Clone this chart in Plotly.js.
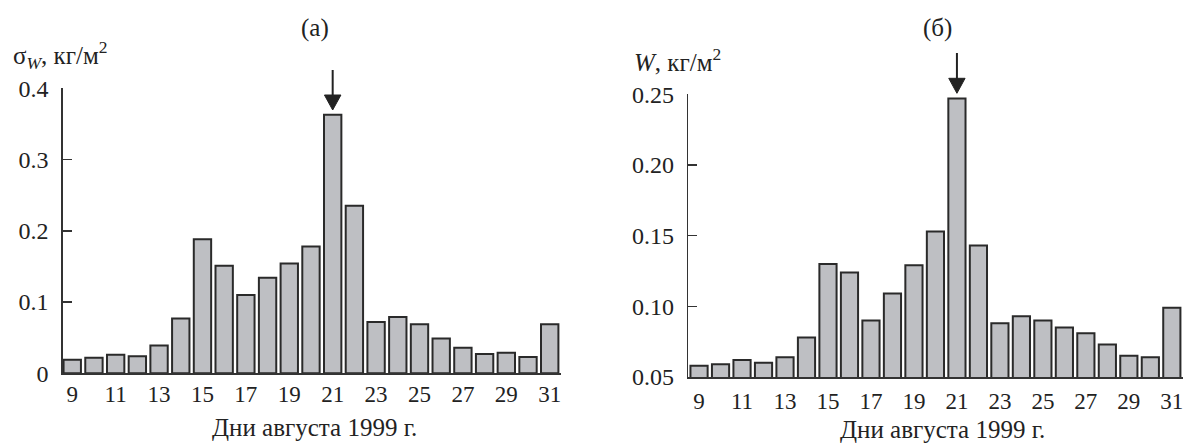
<!DOCTYPE html>
<html>
<head>
<meta charset="utf-8">
<script src="https://cdn.plot.ly/plotly-3.0.1.min.js"></script>
<style>
  html, body { margin: 0; padding: 0; background: #ffffff; }
  #chart { width: 1183px; height: 443px; }
</style>
</head>
<body>
<div id="chart"></div>
<script>
// Days of August 1999
var days = [9, 10, 11, 12, 13, 14, 15, 16, 17, 18, 19, 20, 21, 22, 23, 24, 25, 26, 27, 28, 29, 30, 31];
// (а) sigma_W, kg/m^2
var sigmaW = [0.019, 0.022, 0.026, 0.024, 0.039, 0.077, 0.188, 0.151, 0.110, 0.134, 0.154, 0.178,
              0.363, 0.235, 0.072, 0.079, 0.069, 0.049, 0.036, 0.027, 0.029, 0.023, 0.069];
// (б) W, kg/m^2
var waterW = [0.058, 0.059, 0.062, 0.060, 0.064, 0.078, 0.130, 0.124, 0.090, 0.109, 0.129, 0.153,
              0.247, 0.143, 0.088, 0.093, 0.090, 0.085, 0.081, 0.073, 0.065, 0.064, 0.099];
// tick labels
var xTickVals = [9, 11, 13, 15, 17, 19, 21, 23, 25, 27, 29, 31];
var xTickText = ['9', '11', '13', '15', '17', '19', '21', '23', '25', '27', '29', '31'];
var yLeftVals = [0, 0.1, 0.2, 0.3, 0.4];
var yLeftText = ['0', '0.1', '0.2', '0.3', '0.4'];
var yRightVals = [0.05, 0.10, 0.15, 0.20, 0.25];
var yRightText = ['0.05', '0.10', '0.15', '0.20', '0.25'];
var markedDay = 21;

var FONT = 'Liberation Serif, Times New Roman, serif';
var TXT = '#222222';
var AX = '#333333';
var ARROW = '#222222';
var barStyle = { color: '#bebfc3', line: { color: '#2a2a2a', width: 2 } };

var traces = [
  { type: 'bar', x: days, y: sigmaW, xaxis: 'x', yaxis: 'y', width: 0.8,
    marker: barStyle, hoverinfo: 'x+y', showlegend: false },
  { type: 'bar', x: days, y: waterW, xaxis: 'x2', yaxis: 'y2', width: 0.8,
    marker: barStyle, hoverinfo: 'x+y', showlegend: false }
];

function xAxis(domain, range, anchor, standoff) {
  return {
    domain: domain, range: range, anchor: anchor,
    tickmode: 'array', tickvals: xTickVals, ticktext: xTickText,
    ticks: '', showgrid: false, zeroline: false,
    showline: true, linecolor: AX, linewidth: 1.5,
    tickfont: { family: FONT, size: 23, color: TXT },
    ticklabelstandoff: standoff, ticklabeloverflow: 'allow', fixedrange: true
  };
}
function yAxis(domain, range, anchor, vals, text) {
  return {
    domain: domain, range: range, anchor: anchor,
    tickmode: 'array', tickvals: vals, ticktext: text,
    ticks: 'inside', ticklen: 9, tickwidth: 1.5, tickcolor: AX,
    showgrid: false, zeroline: false,
    showline: true, linecolor: AX, linewidth: 1.5,
    tickfont: { family: FONT, size: 24, color: TXT },
    ticklabelstandoff: 8, ticklabeloverflow: 'allow', fixedrange: true
  };
}

var W = 1183, H = 443;
function px(x) { return x / W; }
function py(y) { return (H - y) / H; }

// downward arrow above the marked day: tail top, head base, tip (page pixels)
function arrowShapes(xref, topY, tipY) {
  var baseY = tipY - 15;
  var half = 0.38;
  return [
    { type: 'line', xref: xref, yref: 'paper', x0: markedDay, x1: markedDay,
      y0: py(topY), y1: py(baseY + 1), line: { color: ARROW, width: 2 } },
    { type: 'path', xref: xref, yref: 'paper',
      path: 'M' + (markedDay - half) + ',' + py(baseY) +
            ' L' + (markedDay + half) + ',' + py(baseY) +
            ' L' + markedDay + ',' + py(tipY) + ' Z',
      fillcolor: ARROW, line: { color: ARROW, width: 1 } }
  ];
}

var layout = {
  width: W, height: H,
  margin: { l: 0, r: 0, t: 0, b: 0 },
  paper_bgcolor: '#ffffff', plot_bgcolor: '#ffffff',
  font: { family: FONT, color: TXT },
  xaxis: xAxis([px(62.7), px(561)], [8.56, 31.52], 'y', 0),
  yaxis: yAxis([py(373.3), py(88.3)], [0, 0.4], 'x', yLeftVals, yLeftText),
  xaxis2: xAxis([px(688.3), 1], [8.50, 31.52], 'y2', 3),
  yaxis2: yAxis([py(377), py(94.3)], [0.05, 0.25], 'x2', yRightVals, yRightText),
  shapes: arrowShapes('x', 70, 110).concat(arrowShapes('x2', 53, 93.3)),
  annotations: [
    { text: '(а)', xref: 'paper', yref: 'paper', x: px(315), y: py(28),
      xanchor: 'center', yanchor: 'middle', showarrow: false,
      font: { family: FONT, size: 25, color: TXT } },
    { text: '(б)', xref: 'paper', yref: 'paper', x: px(937), y: py(28),
      xanchor: 'center', yanchor: 'middle', showarrow: false,
      font: { family: FONT, size: 25, color: TXT } },
    { text: 'σ<sub><i>W</i></sub>, кг/м<sup>2</sup>', xref: 'paper', yref: 'paper',
      x: px(11), y: py(55), xanchor: 'left', yanchor: 'middle', showarrow: false,
      font: { family: FONT, size: 25, color: TXT } },
    { text: '<i>W</i>, кг/м<sup>2</sup>', xref: 'paper', yref: 'paper',
      x: px(632), y: py(60), xanchor: 'left', yanchor: 'middle', showarrow: false,
      font: { family: FONT, size: 25, color: TXT } },
    { text: 'Дни августа 1999 г.', xref: 'paper', yref: 'paper',
      x: px(314), y: py(427), xanchor: 'center', yanchor: 'middle', showarrow: false,
      font: { family: FONT, size: 25, color: TXT } },
    { text: 'Дни августа 1999 г.', xref: 'paper', yref: 'paper',
      x: px(942), y: py(429), xanchor: 'center', yanchor: 'middle', showarrow: false,
      font: { family: FONT, size: 25, color: TXT } }
  ]
};

Plotly.newPlot('chart', traces, layout, { staticPlot: true, displayModeBar: false });
</script>
</body>
</html>
